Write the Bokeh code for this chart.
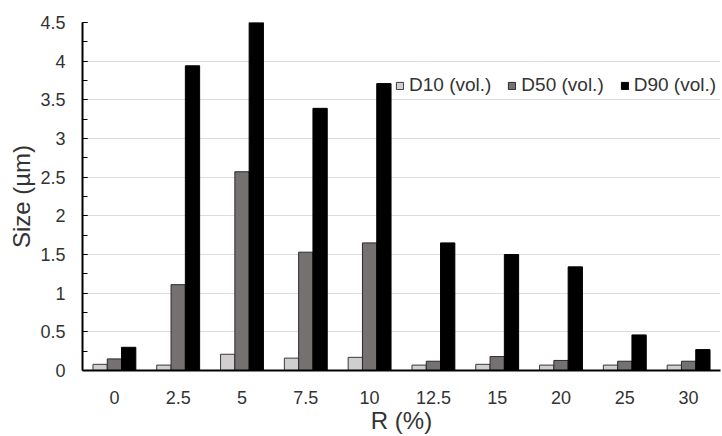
from bokeh.plotting import figure
from bokeh.models import ColumnDataSource, FactorRange, Range1d, SingleIntervalTicker, NumeralTickFormatter, Legend, LegendItem
from bokeh.transform import dodge
from bokeh.embed import file_html
from bokeh.resources import INLINE

R = ["0", "2.5", "5", "7.5", "10", "12.5", "15", "20", "25", "30"]
d10 = [0.08, 0.07, 0.21, 0.16, 0.17, 0.07, 0.08, 0.07, 0.07, 0.07]
d50 = [0.15, 1.11, 2.57, 1.53, 1.65, 0.12, 0.18, 0.13, 0.12, 0.12]
d90 = [0.30, 3.94, 4.50, 3.39, 3.71, 1.65, 1.50, 1.34, 0.46, 0.27]
series_names = ["D10 (vol.)", "D50 (vol.)", "D90 (vol.)"]

src = ColumnDataSource(dict(R=R, d10=d10, d50=d50, d90=d90))

FONT = "Liberation Sans"
TXT = "#333333"

p = figure(x_range=FactorRange(*R, range_padding=0), y_range=Range1d(0, 4.5),
           width=722, height=436, output_backend="svg", toolbar_location=None,
           min_border_left=82, min_border_right=2, min_border_top=22, min_border_bottom=63)
p.outline_line_color = None
p.background_fill_color = "white"

w = 0.224
r1 = p.vbar(x=dodge("R", -w, range=p.x_range), top="d10", width=w, source=src,
            fill_color="#d0cece", line_color="#3a3a3a", line_width=1)
r2 = p.vbar(x=dodge("R", 0, range=p.x_range), top="d50", width=w, source=src,
            fill_color="#767171", line_color="#2a2a2a", line_width=1)
r3 = p.vbar(x=dodge("R", w, range=p.x_range), top="d90", width=w, source=src,
            fill_color="#000000", line_color="#000000", line_width=1)

# axes
p.xgrid.grid_line_color = None
p.ygrid.grid_line_color = "#dcdcdc"
p.ygrid.grid_line_width = 1

p.yaxis.ticker = SingleIntervalTicker(interval=0.5, num_minor_ticks=2)
p.yaxis.formatter = NumeralTickFormatter(format="0.[0]")
p.yaxis.major_tick_in = 5
p.yaxis.major_tick_out = 0
p.yaxis.minor_tick_in = 5
p.yaxis.minor_tick_out = 0
p.yaxis.major_tick_line_color = "black"
p.yaxis.minor_tick_line_color = "black"
p.yaxis.axis_line_width = 2
p.yaxis.axis_line_color = "black"
p.yaxis.major_label_standoff = 17
p.yaxis.axis_label = "Size (µm)"
p.yaxis.axis_label_standoff = 2

p.xaxis.major_tick_line_color = None
p.xaxis.minor_tick_line_color = None
p.xaxis.axis_line_width = 2
p.xaxis.axis_line_color = "black"
p.xaxis.major_label_standoff = 14
p.xaxis.axis_label = "R (%)"
p.xaxis.axis_label_standoff = 0

for ax in (p.xaxis[0], p.yaxis[0]):
    ax.major_label_text_font = FONT
    ax.major_label_text_font_size = "18px"
    ax.major_label_text_color = TXT
    ax.axis_label_text_font = FONT
    ax.axis_label_text_font_size = "24px"
    ax.axis_label_text_font_style = "normal"
    ax.axis_label_text_color = TXT

legend = Legend(items=[LegendItem(label=series_names[0], renderers=[r1]),
                       LegendItem(label=series_names[1], renderers=[r2]),
                       LegendItem(label=series_names[2], renderers=[r3])],
                orientation="horizontal", location=(313, 274))
legend.label_text_font = FONT
legend.label_text_font_size = "19px"
legend.label_text_color = TXT
legend.glyph_width = 9
legend.glyph_height = 9
legend.label_standoff = 5
legend.spacing = 16
legend.padding = 0
legend.margin = 0
legend.border_line_color = None
legend.background_fill_alpha = 0
p.add_layout(legend, "center")

open("out.html", "w").write(file_html(p, INLINE))
